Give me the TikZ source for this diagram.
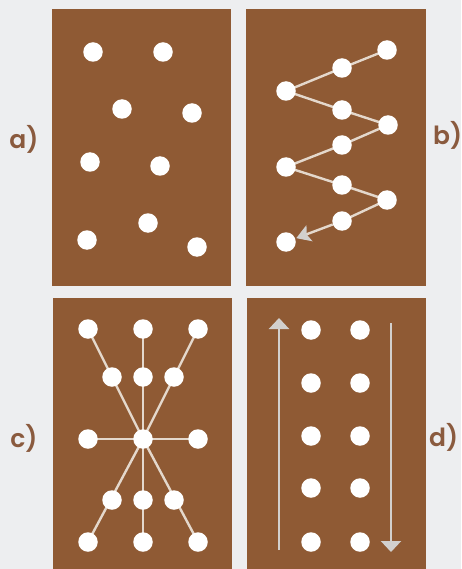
\documentclass[tikz,border=0pt]{standalone}
\usepackage{fontspec}
\setmainfont{Poppins}
\newfontfamily\tagfont{Poppins SemiBold}
\usetikzlibrary{arrows.meta}
\pgfdeclarelayer{panels}
\pgfdeclarelayer{bg}
\pgfsetlayers{panels,bg,main}
\definecolor{pagebg}{HTML}{EDEEF0}
\definecolor{panel}{HTML}{8F5A34}
\definecolor{labelbrown}{HTML}{8A5A3E}
\definecolor{linebeige}{HTML}{E4D8CC}
\definecolor{arrowgrey}{HTML}{D2D0CE}
\tikzset{
  panelbox/.style={fill=panel, draw=none},
  dot/.style={circle, fill=white, draw=none, minimum size=19.5pt, inner sep=0pt},
  link/.style={draw=linebeige, line width=2.4pt},
  flow/.style={draw=arrowgrey, line width=2.4pt},
  tag/.style={text=labelbrown, font=\tagfont\fontsize{25}{30}\selectfont, inner sep=0pt}
}
\begin{document}
\begin{tikzpicture}[x=1pt,y=-1pt]
\begin{pgfonlayer}{panels}
\fill[pagebg] (0,0) rectangle (461,569);
\fill[panelbox] (52,9) rectangle (231,286);
\fill[panelbox] (246,9) rectangle (426,286);
\fill[panelbox] (53,298) rectangle (232,569);
\fill[panelbox] (247,298) rectangle (426,569);
\end{pgfonlayer}
\useasboundingbox (0,0) rectangle (461,569);
% labels
\node[tag] (la) at (24,139) {a)};
\node[tag, anchor=west] (lb) at (433,135) {b)};
\node[tag] (lc) at (24,438) {c)};
\node[tag, anchor=west] (ld) at (429,437) {d)};
% panel a
\node[dot] (a1) at (93,52) {};
\node[dot] (a2) at (163,52) {};
\node[dot] (a3) at (122,109) {};
\node[dot] (a4) at (192,113) {};
\node[dot] (a5) at (90,162) {};
\node[dot] (a6) at (160,166) {};
\node[dot] (a7) at (148,223) {};
\node[dot] (a8) at (87,240) {};
\node[dot] (a9) at (197,247) {};
% panel b
\node[dot] (b1) at (387,50) {};
\node[dot] (b2) at (342,68) {};
\node[dot] (b3) at (286,91) {};
\node[dot] (b4) at (342,110) {};
\node[dot] (b5) at (388,125) {};
\node[dot] (b6) at (342,145) {};
\node[dot] (b7) at (286,167) {};
\node[dot] (b8) at (342,185) {};
\node[dot] (b9) at (387,200) {};
\node[dot] (b10) at (342,221) {};
\node[dot] (b11) at (286,242) {};
\begin{pgfonlayer}{bg}
\draw[link] (b1.center) -- (b2.center) -- (b3.center) -- (b4.center) -- (b5.center) -- (b6.center) -- (b7.center) -- (b8.center) -- (b9.center) -- (b10.center);
\end{pgfonlayer}
\draw[link, shorten >=1pt, -{Stealth[length=14pt, width=17pt, inset=3pt, color=arrowgrey]}] (b10) -- (b11);
% panel c
\node[dot] (c1) at (88,329) {};
\node[dot] (c2) at (143,329) {};
\node[dot] (c3) at (198,329) {};
\node[dot] (c4) at (112,377) {};
\node[dot] (c5) at (143,377) {};
\node[dot] (c6) at (174,377) {};
\node[dot] (c7) at (88,439) {};
\node[dot] (c8) at (143,439) {};
\node[dot] (c9) at (198,439) {};
\node[dot] (c10) at (112,500) {};
\node[dot] (c11) at (143,500) {};
\node[dot] (c12) at (174,500) {};
\node[dot] (c13) at (88,542) {};
\node[dot] (c14) at (143,542) {};
\node[dot] (c15) at (198,542) {};
\begin{pgfonlayer}{bg}
\foreach \t in {c1,c2,c3,c7,c9,c13,c14,c15}
  \draw[link] (c8.center) -- (\t.center);
\end{pgfonlayer}
% panel d
\foreach \r/\y in {1/330,2/383,3/436,4/488,5/542}{
  \node[dot] (dl\r) at (311,\y) {};
  \node[dot] (dr\r) at (360,\y) {};
}
\coordinate (up0) at (279,550);
\coordinate (up1) at (279,318);
\coordinate (dn0) at (391,323);
\coordinate (dn1) at (391,552);
\draw[flow, -{Triangle[length=11pt, width=20pt]}] (up0) -- (up1);
\draw[flow, -{Triangle[length=11pt, width=20pt]}] (dn0) -- (dn1);
\end{tikzpicture}
\end{document}
